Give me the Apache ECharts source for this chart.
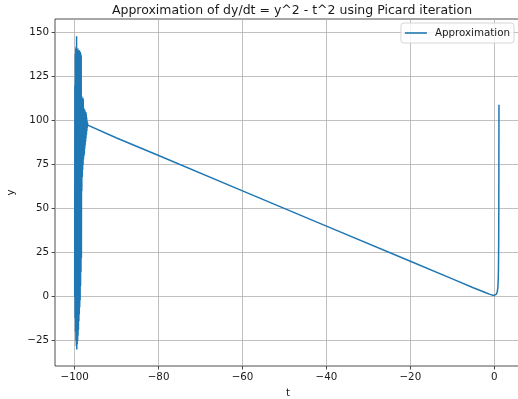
<!DOCTYPE html>
<html>
<head>
<meta charset="utf-8">
<script src="https://cdn.jsdelivr.net/npm/echarts@6/dist/echarts.min.js"></script>
<style>
  html, body { margin: 0; padding: 0; background: #fff; }
  #main { width: 518px; height: 399px; }
</style>
</head>
<body>
<div id="main"></div>
<script>
// oscillating start, t in [-100, -96.9]
const tOsc = [-100.00, -99.95, -99.90, -99.85, -99.80, -99.75, -99.70, -99.65, -99.60, -99.55,
  -99.50, -99.45, -99.40, -99.35, -99.30, -99.25, -99.20, -99.15, -99.10, -99.05,
  -99.00, -98.95, -98.90, -98.85, -98.80, -98.75, -98.70, -98.65, -98.60, -98.55,
  -98.50, -98.45, -98.40, -98.35, -98.30, -98.25, -98.20, -98.15, -98.10, -98.05,
  -98.00, -97.95, -97.90, -97.85, -97.80, -97.75, -97.70, -97.65, -97.60, -97.55,
  -97.50, -97.45, -97.40, -97.35, -97.30, -97.25, -97.20, -97.15, -97.10, -97.05,
  -97.00, -96.95, -96.90];
const yOsc = [0, 120, -12, 138, -20, 141, -25, 142, -28, 148,
  -30, 141, -27, 140, -25, 141, -22, 140, -19, 140,
  -14, 139, -10, 140, -6, 139, -2, 139, 6, 138,
  14, 137, 22, 114, 60, 113, 68, 113, 72, 113,
  75, 112, 78, 107, 80, 107, 81, 106, 84, 106,
  86, 105, 88, 105, 90, 104, 92, 102, 94, 100,
  96, 99, 97.5];

// straight run down to the origin and the blow-up near t = 1
const tTrend = [-90, -80, -60, -40, -20, -10, -5, -2, -1, -0.5, 0, 0.3, 0.5, 0.7, 0.85, 0.95, 1.0, 1.05, 1.08, 1.1, 1.12];
const yTrend = [90.2, 80.2, 60.1, 40.1, 20.1, 10.1, 5.1, 2.2, 1.3, 0.9, 0.7, 0.9, 1.4, 2.6, 5, 10, 16, 30, 50, 80, 109];

const xTicks = [-100, -80, -60, -40, -20, 0];
const yTicks = [-25, 0, 25, 50, 75, 100, 125, 150];

const tAll = tOsc.concat(tTrend);
const yAll = yOsc.concat(yTrend);
const points = tAll.map((t, i) => [t, yAll[i]]);

const font = 'DejaVu Sans';
const ink = '#1a1a1a';
const minus = v => (v < 0 ? '\u2212' + Math.abs(v) : String(v));

var chart = echarts.init(document.getElementById('main'), null, { renderer: 'canvas' });

const option = {
  animation: false,
  backgroundColor: '#fff',
  title: {
    text: 'Approximation of dy/dt = y^2 - t^2 using Picard iteration',
    left: 287,
    textAlign: 'center',
    top: -1,
    textStyle: { fontFamily: font, fontSize: 12.5, fontWeight: 'normal', color: ink }
  },
  legend: {
    data: [{ name: 'Approximation', icon: 'path://M0,0H22V1.6H0Z' }],
    right: 4,
    top: 23,
    padding: [5, 4, 5, 4],
    itemWidth: 22,
    itemHeight: 1.6,
    borderColor: '#cccccc',
    borderWidth: 0.8,
    borderRadius: 3,
    backgroundColor: 'rgba(255,255,255,0.8)',
    textStyle: { fontFamily: font, fontSize: 10.3, color: ink, padding: [0, 0, 0, 3] }
  },
  grid: {
    left: 55, right: -3, top: 19, bottom: 33,
    outerBoundsMode: 'none',
    show: true, borderColor: '#222', borderWidth: 0.8,
    containLabel: false
  },
  xAxis: {
    type: 'value',
    min: -104.69,
    max: 6.37,
    name: 't',
    nameLocation: 'middle',
    nameGap: 22,
    nameTextStyle: { fontFamily: font, fontSize: 10.3, color: ink },
    axisLine: { show: false, onZero: false },
    axisTick: { show: true, inside: false, length: 3.5, customValues: xTicks, lineStyle: { color: '#222', width: 0.8 } },
    axisLabel: { customValues: xTicks, margin: 6, fontFamily: font, fontSize: 10.3, color: ink, formatter: minus },
    splitLine: { show: true, lineStyle: { color: '#b0b0b0', width: 0.8 } }
  },
  yAxis: {
    type: 'value',
    min: -39.4,
    max: 157.8,
    name: 'y',
    nameLocation: 'middle',
    nameGap: 35,
    nameTextStyle: { fontFamily: font, fontSize: 10.3, color: ink },
    axisLine: { show: false, onZero: false },
    axisTick: { show: true, inside: false, length: 3.5, customValues: yTicks, lineStyle: { color: '#222', width: 0.8 } },
    axisLabel: { customValues: yTicks, margin: 6, fontFamily: font, fontSize: 10.3, color: ink, formatter: minus },
    splitLine: { show: true, lineStyle: { color: '#b0b0b0', width: 0.8 } }
  },
  series: [
    {
      name: 'Approximation',
      type: 'line',
      data: points,
      symbol: 'none',
      showSymbol: false,
      clip: true,
      lineStyle: { color: '#1f77b4', width: 1.5 },
      itemStyle: { color: '#1f77b4' }
    }
  ]
};

option && chart.setOption(option);
</script>
</body>
</html>
